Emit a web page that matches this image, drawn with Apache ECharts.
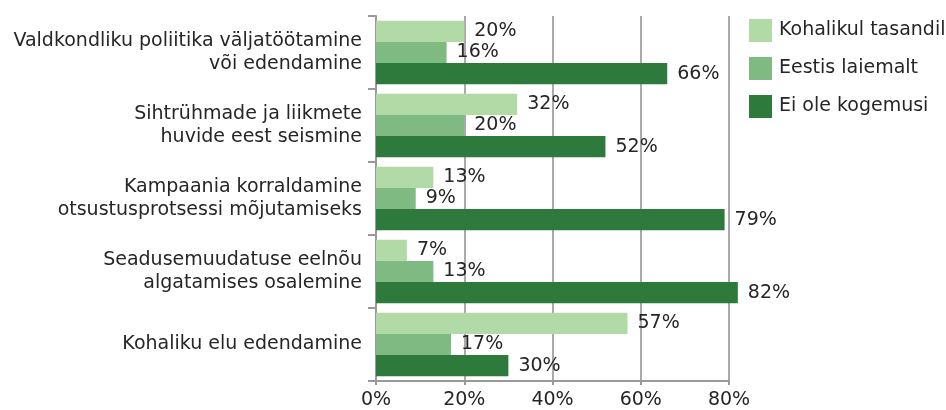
<!DOCTYPE html>
<html><head><meta charset="utf-8">
<script src="https://cdn.jsdelivr.net/npm/echarts@6/dist/echarts.min.js"></script>
<style>html,body{margin:0;padding:0;background:#fff}#c{width:946px;height:410px}</style>
</head><body><div id="c"></div>
<script>
const categories = [
  "Valdkondliku poliitika väljatöötamine\nvõi edendamine",
  "Sihtrühmade ja liikmete\nhuvide eest seismine",
  "Kampaania korraldamine\notsustusprotsessi mõjutamiseks",
  "Seadusemuudatuse eelnõu\nalgatamises osalemine",
  "Kohaliku elu edendamine"
];
const seriesNames = ["Kohalikul tasandil", "Eestis laiemalt", "Ei ole kogemusi"];
const kohalikul = [20, 32, 13, 7, 57];
const eestis = [16, 20, 9, 13, 17];
const eiOle = [66, 52, 79, 82, 30];
const xTicks = [0, 20, 40, 60, 80];
const colors = ["#b2daa7", "#7eba82", "#2e7a3c"];
const FONT = "DejaVu Sans";
const FS = 19;
const TXT = "#262626";
const chart = echarts.init(document.getElementById('c'));
const data = [kohalikul, eestis, eiOle];
chart.setOption({
  animation: false,
  textStyle: {fontFamily: FONT},
  grid: {left: 376, top: 16, width: 353, height: 365},
  legend: {
    orient: 'vertical', left: 749, top: 19, padding: 0, itemWidth: 23, itemHeight: 23, itemGap: 15,
    icon: 'rect', textStyle: {fontSize: FS, color: TXT, fontFamily: FONT, padding: [0,0,0,2]},
    data: seriesNames
  },
  xAxis: {
    type: 'value', min: xTicks[0], max: xTicks[xTicks.length-1], interval: 20,
    axisLine: {show: true, lineStyle: {color: '#999', width: 2}},
    axisTick: {show: true, length: 4, lineStyle: {color: '#999', width: 2}},
    axisLabel: {fontSize: FS, color: TXT, margin: 10, formatter: v => v + '%'},
    splitLine: {show: true, lineStyle: {color: '#aaa', width: 2}}
  },
  yAxis: {
    type: 'category', inverse: true, data: categories,
    axisLine: {show: true, lineStyle: {color: '#999', width: 2}},
    axisTick: {show: true, length: 8, lineStyle: {color: '#999', width: 2}},
    axisLabel: {fontSize: FS, color: TXT, margin: 14, lineHeight: 23, align: 'right'}
  },
  series: seriesNames.map((n, i) => ({
    name: n, type: 'bar', data: data[i], barGap: '0%', barCategoryGap: '13%',
    clip: false,
    itemStyle: {color: colors[i]},
    label: {show: true, position: 'right', distance: 10, fontSize: FS, color: TXT, formatter: '{c}%'}
  }))
});
</script></body></html>
